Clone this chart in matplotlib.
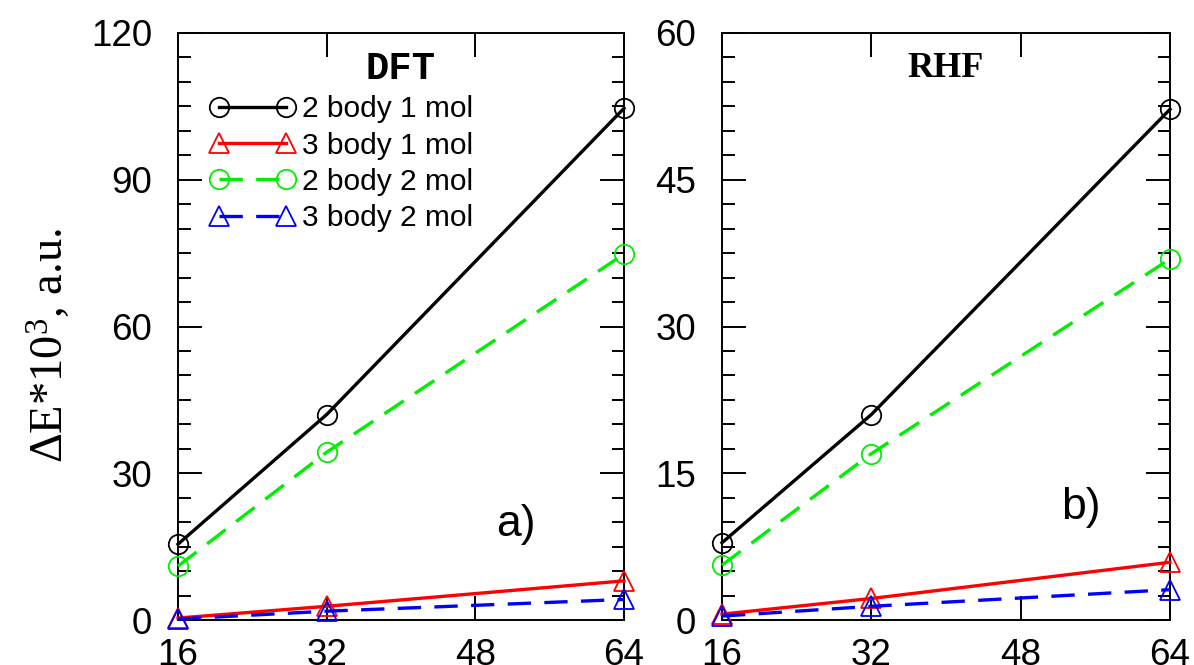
import matplotlib
matplotlib.use("Agg")
import matplotlib.pyplot as plt

x = [16, 32, 64]
xticks = [16, 32, 48, 64]

dft_2b1m = [15.5, 42.0, 104.6]
dft_3b1m = [0.4, 2.8, 8.0]
dft_2b2m = [11.0, 34.3, 74.8]
dft_3b2m = [0.2, 1.8, 4.2]

rhf_2b1m = [7.9, 21.0, 52.2]
rhf_3b1m = [0.6, 2.2, 5.9]
rhf_2b2m = [5.6, 17.0, 36.9]
rhf_3b2m = [0.4, 1.4, 3.1]

labels = ["2 body 1 mol", "3 body 1 mol", "2 body 2 mol", "3 body 2 mol"]

plt.rcParams['font.family'] = ['Liberation Sans', 'DejaVu Sans']
plt.rcParams['mathtext.fontset'] = 'custom'
plt.rcParams['mathtext.rm'] = 'Liberation Serif'
plt.rcParams['mathtext.it'] = 'Liberation Serif:italic'
plt.rcParams['mathtext.bf'] = 'Liberation Serif:bold'

fig = plt.figure(figsize=(11.94, 6.65), dpi=100)
W, H = 1194, 665
axA = fig.add_axes([178 / W, (H - 620) / H, 446 / W, 587 / H])
axB = fig.add_axes([722 / W, (H - 620) / H, 448 / W, 587 / H])

styles = [
    dict(color='black', ls='-', marker='o'),
    dict(color='#ff0000', ls='-', marker='^'),
    dict(color='#00ee00', ls=(0, (7, 4)), marker='o'),
    dict(color='#0000ff', ls=(0, (7, 4)), marker='^'),
]


def draw(ax, series, ymax, ymajor, yminor, title, tfont, tsize, ty, letter, lpos):
    for ys, st, lab in zip(series, styles, labels):
        ax.plot(x, ys, color=st['color'], ls=st['ls'], lw=2.4,
                marker=st['marker'], ms=14, mfc='none', mec=st['color'],
                mew=1.3, clip_on=False, label=lab, zorder=3)
    ax.set_xlim(16, 64)
    ax.set_ylim(0, ymax)
    ax.set_xticks(xticks)
    ax.set_yticks([i * ymajor for i in range(int(ymax / ymajor) + 1)])
    ax.set_yticks([i * yminor for i in range(int(ymax / yminor) + 1)], minor=True)
    ax.tick_params(which='both', direction='in', top=True, right=True,
                   labelsize=26.5, width=1.4)
    ax.tick_params(which='major', length=17)
    ax.tick_params(which='minor', length=9)
    ax.tick_params(axis='x', pad=13)
    ax.tick_params(axis='y', pad=18.5)
    for s in ax.spines.values():
        s.set_linewidth(1.4)
    ax.text(0.5, ty, title, transform=ax.transAxes, ha='center', va='top',
            fontsize=tsize, fontweight='bold', family=tfont)
    ax.text(lpos[0], lpos[1], letter, transform=ax.transAxes, ha='center',
            va='center', fontsize=32)


draw(axA, [dft_2b1m, dft_3b1m, dft_2b2m, dft_3b2m], 120, 30, 5,
     'DFT', ['Liberation Mono'], 28, 0.97, 'a)', (0.758, 0.1635))
draw(axB, [rhf_2b1m, rhf_3b1m, rhf_2b2m, rhf_3b2m], 60, 15, 2.5,
     'RHF', ['Liberation Serif'], 26, 0.968, 'b)', (0.801, 0.1925))

axA.legend(loc='upper left', bbox_to_anchor=(0.0717, 0.894), frameon=False,
           numpoints=2, fontsize=21.5, handlelength=2.84, handletextpad=0.25,
           labelspacing=0.28, borderaxespad=0.0, borderpad=0.0)

fig.text(50 / W, 1 - 345.5 / H, r"$\Delta$E*10$^{3}$, a.u.", rotation=90,
         ha='center', va='center', fontsize=33.5, family=['Liberation Serif'])

fig.savefig('out.png', dpi=100)
